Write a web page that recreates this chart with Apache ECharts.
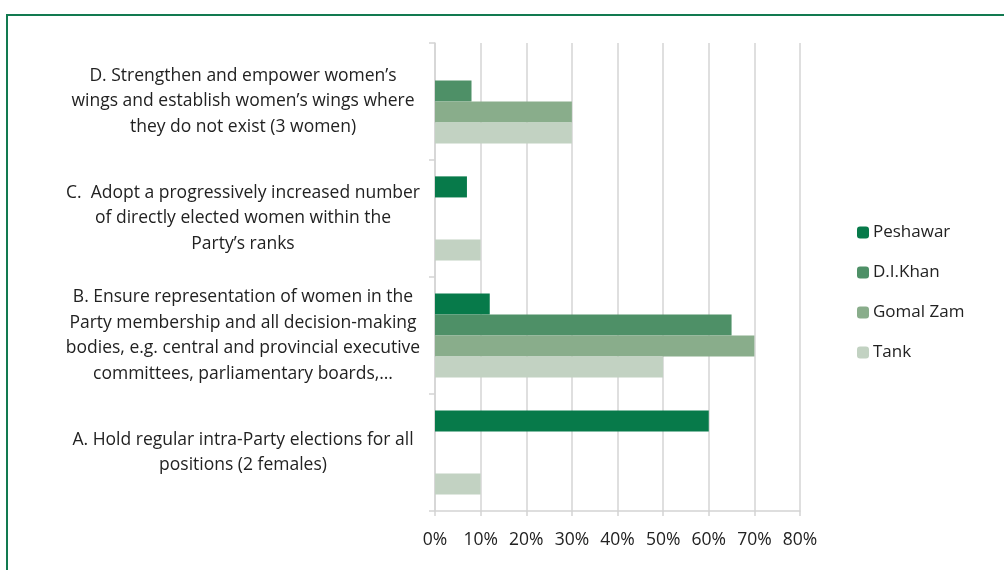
<!DOCTYPE html>
<html>
<head>
<meta charset="utf-8">
<script src="https://cdn.jsdelivr.net/npm/echarts@6/dist/echarts.min.js"></script>
<style>
  html, body { margin: 0; padding: 0; background: #fff; }
  #chart { width: 1004px; height: 570px; }
</style>
</head>
<body>
<div id="chart"></div>
<script>
// Recommendations, bottom (A) to top (D)
const categories = [
  'A. Hold regular intra-Party elections for all\npositions (2 females)',
  'B. Ensure representation of women in the\nParty membership and all decision-making\nbodies, e.g. central and provincial executive\ncommittees, parliamentary boards,\u2026',
  'C.  Adopt a progressively increased number\nof directly elected women within the\nParty\u2019s ranks',
  'D. Strengthen and empower women\u2019s\nwings and establish women\u2019s wings where\nthey do not exist (3 women)'
];
const seriesNames = ['Peshawar', 'D.I.Khan', 'Gomal Zam', 'Tank'];
// share of respondents, in percent, per category (A, B, C, D)
const peshawar = [60, 12, 7, 0];
const diKhan = [0, 65, 0, 8];
const gomalZam = [0, 70, 0, 30];
const tank = [10, 50, 10, 30];
const xTicks = [0, 10, 20, 30, 40, 50, 60, 70, 80];

const colors = ['#077a4a', '#4e9067', '#89ad8b', '#c2d2c2'];
const values = [peshawar, diKhan, gomalZam, tank];
const font = 'Open Sans';

const chart = echarts.init(document.getElementById('chart'));
chart.setOption({
  animation: false,
  graphic: [{
    type: 'rect',
    shape: { x: 7, y: 15, width: 1100, height: 700 },
    style: { fill: 'none', stroke: '#127a50', lineWidth: 2 },
    silent: true
  }],
  legend: {
    orient: 'vertical',
    left: 857,
    top: 224,
    padding: 0,
    itemWidth: 12,
    itemHeight: 12,
    itemGap: 23,
    data: seriesNames,
    textStyle: { fontFamily: font, fontSize: 17, color: '#222', lineHeight: 16, padding: [0, 0, 0, -1] }
  },
  grid: { left: 435, right: 204, top: 43, bottom: 59 },
  xAxis: {
    type: 'value',
    min: xTicks[0],
    max: xTicks[xTicks.length - 1],
    interval: 10,
    axisLine: { show: true, lineStyle: { color: '#d4d4d4', width: 1.5 } },
    axisTick: { show: true, length: 5, lineStyle: { color: '#d4d4d4', width: 1.5 } },
    splitLine: { show: true, lineStyle: { color: '#d4d4d4', width: 1.5 } },
    axisLabel: { formatter: '{value}%', fontFamily: font, fontSize: 17.5, color: '#222', margin: 20 }
  },
  yAxis: {
    type: 'category',
    data: categories,
    axisLine: { show: true, lineStyle: { color: '#d4d4d4', width: 1.5 } },
    axisTick: { show: true, length: 6, lineStyle: { color: '#d4d4d4', width: 1.5 } },
    axisLabel: {
      align: 'center',
      margin: 192,
      padding: [4, 0, 0, 0],
      fontFamily: font,
      fontSize: 17.5,
      lineHeight: 25.5,
      color: '#222'
    }
  },
  series: seriesNames.map((name, i) => ({
    name,
    type: 'bar',
    data: values[i],
    barGap: '0%',
    barCategoryGap: '28%',
    itemStyle: { color: colors[i] }
  }))
});
</script>
</body>
</html>
